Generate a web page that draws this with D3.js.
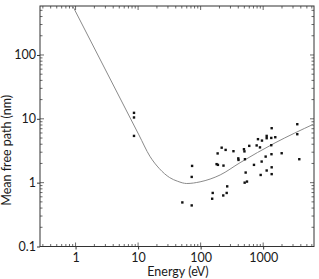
<!DOCTYPE html>
<html>
<head>
<meta charset="utf-8">
<script src="https://cdn.jsdelivr.net/npm/d3@7"></script>
<style>
  body { margin: 0; background: #fff; }
  svg text { font-family: Lato, "Open Sans", sans-serif; fill: #1a1a1a; }
</style>
</head>
<body>
<div id="chart"></div>
<script>
// universal curve
const curveEnergy = [0.9, 10.3, 15.4, 22, 32, 43, 60, 98, 205, 425, 1550, 6500];
const curvePath = [585, 5.6, 2.6, 1.65, 1.2, 1.05, 0.97, 1.03, 1.32, 2.05, 4.2, 8.3];

// measured points
const pointEnergy = [8.6, 8.6, 8.6, 73, 72, 51, 72, 153, 156, 230, 261, 266,
    180, 189, 232, 217, 251, 187, 335, 400, 403, 493, 502, 599, 787, 889,
    511, 713, 946, 1096, 1358, 1348, 1977, 3781, 826, 957, 1138, 1138, 1348, 1562,
    1368, 3512, 3512, 525, 912, 1138, 1368, 1368, 506, 551];
const pointPath = [12.4, 10.5, 5.4, 1.83, 1.23, 0.49, 0.44, 0.56, 0.69, 0.63, 0.69, 0.875,
    1.95, 1.9, 1.85, 3.53, 3.26, 2.87, 3.11, 2.4, 2.27, 3.34, 3.09, 3.77, 3.83, 3.57,
    2.33, 1.9, 2.14, 2.56, 2.79, 3.86, 2.89, 2.33, 4.8, 4.56, 5.4, 4.97, 5.02, 5.15,
    7.13, 8.23, 5.74, 1.44, 1.32, 1.55, 1.74, 1.36, 1.0, 1.04];

const xTicks = [1, 10, 100, 1000];
const yTicks = [0.1, 1, 10, 100];
const xLabel = 'Energy (eV)';
const yLabel = 'Mean free path (nm)';

const width = 319, height = 279;
const margin = { left: 40, right: 5, top: 6, bottom: 32.5 };

const svg = d3.select('#chart').append('svg')
    .attr('width', width)
    .attr('height', height);

const x = d3.scaleLog().domain([0.27, 6500]).range([margin.left, width - margin.right]);
const y = d3.scaleLog().domain([0.1, 585]).range([height - margin.bottom, margin.top]);

// minor tick values for each axis
const minors = (domain) => {
    const out = [];
    for (let p = -2; p <= 4; p++) {
        for (let m = 1; m <= 9; m++) {
            const v = m * Math.pow(10, p);
            if (v >= domain[0] && v <= domain[1]) out.push(v);
        }
    }
    return out;
};

const x0 = margin.left, x1 = width - margin.right;
const y0 = height - margin.bottom, y1 = margin.top;

svg.append('clipPath').attr('id', 'clip')
    .append('rect').attr('x', x0).attr('y', y1).attr('width', x1 - x0).attr('height', y0 - y1);

// minor ticks, inside the box on all sides
const frame = svg.append('g').attr('stroke', '#444').attr('stroke-width', 0.8);
minors(x.domain()).forEach(v => {
    const big = xTicks.includes(v);
    frame.append('line').attr('x1', x(v)).attr('x2', x(v)).attr('y1', y0).attr('y2', y0 - (big ? 4 : 2.5));
    frame.append('line').attr('x1', x(v)).attr('x2', x(v)).attr('y1', y1).attr('y2', y1 + (big ? 4 : 2.5));
});
minors(y.domain()).forEach(v => {
    const big = yTicks.includes(v);
    frame.append('line').attr('y1', y(v)).attr('y2', y(v)).attr('x1', x0).attr('x2', x0 + (big ? 4 : 2.5));
    frame.append('line').attr('y1', y(v)).attr('y2', y(v)).attr('x1', x1).attr('x2', x1 - (big ? 4 : 2.5));
});

// major axes with labels
const xAxis = svg.append('g')
    .attr('transform', `translate(0,${y0})`)
    .call(d3.axisBottom(x).tickValues(xTicks).tickFormat(d3.format('d')).tickSize(3).tickSizeOuter(0));
const yAxis = svg.append('g')
    .attr('transform', `translate(${x0},0)`)
    .call(d3.axisLeft(y).tickValues(yTicks).tickFormat(d => d < 1 ? '0.1' : d3.format('d')(d)).tickSize(3).tickSizeOuter(0));

[xAxis, yAxis].forEach(a => {
    a.select('.domain').remove();
    a.selectAll('line').attr('stroke', '#333');
    a.selectAll('text').style('font-size', '12.5px').attr('fill', '#1a1a1a');
});
xAxis.selectAll('text').attr('dy', '0.9em').attr('y', 4);
yAxis.selectAll('text').attr('x', -4);

// box
svg.append('rect')
    .attr('x', x0).attr('y', y1)
    .attr('width', x1 - x0).attr('height', y0 - y1)
    .attr('fill', 'none')
    .attr('stroke', '#333')
    .attr('stroke-width', 1);

// curve
const line = d3.line()
    .x((d, i) => x(curveEnergy[i]))
    .y((d, i) => y(curvePath[i]))
    .curve(d3.curveMonotoneX);

svg.append('path')
    .datum(curvePath)
    .attr('clip-path', 'url(#clip)')
    .attr('d', line)
    .attr('fill', 'none')
    .attr('stroke', '#8a8a8a')
    .attr('stroke-width', 1);

// points
svg.append('g').selectAll('rect')
    .data(pointEnergy)
    .enter().append('rect')
    .attr('x', (d, i) => x(d) - 1.2)
    .attr('y', (d, i) => y(pointPath[i]) - 1.2)
    .attr('width', 2.4)
    .attr('height', 2.4)
    .attr('fill', '#111');

// axis titles
svg.append('text')
    .attr('x', (x0 + x1) / 2 + 1)
    .attr('y', 276)
    .attr('text-anchor', 'middle')
    .style('font-size', '12.5px')
    .text(xLabel);

svg.append('text')
    .attr('transform', `translate(10.5,${(y0 + y1) / 2 + 24}) rotate(-90)`)
    .attr('text-anchor', 'middle')
    .style('font-size', '12.5px')
    .text(yLabel);
</script>
</body>
</html>
